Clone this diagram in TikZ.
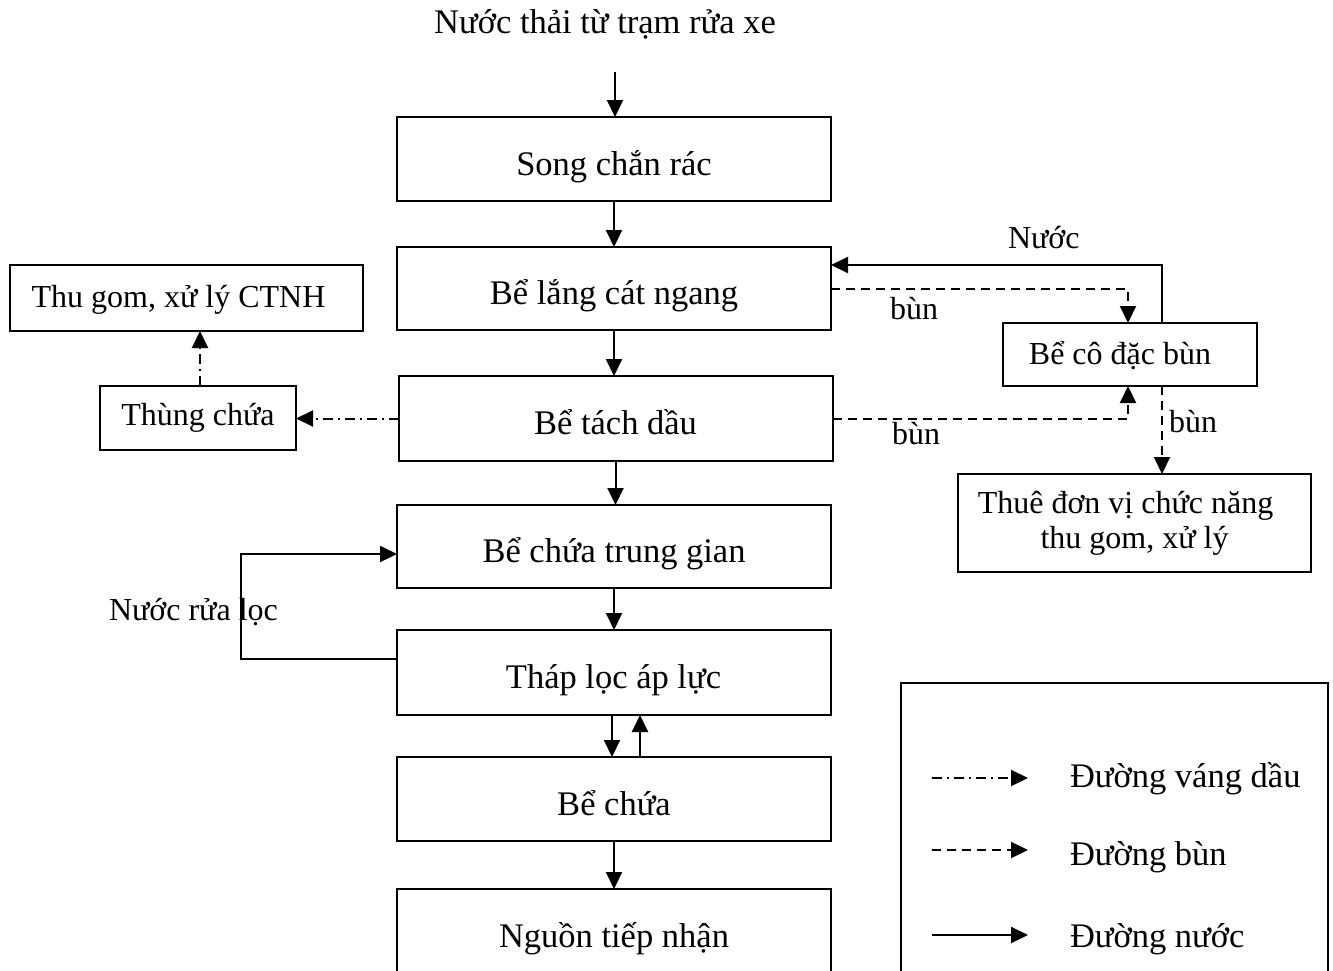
\documentclass[tikz,border=0pt]{standalone}
\usepackage{fontspec}
\setmainfont{Liberation Serif}
\usetikzlibrary{arrows.meta}
\begin{document}
\begin{tikzpicture}[x=1pt,y=-1pt,
  every node/.style={inner sep=0pt, outer sep=0pt},
  bigfont/.style={font=\fontsize{34.5}{40}\selectfont},
  smallfont/.style={font=\fontsize{32}{35}\selectfont},
  mainbox/.style={draw, line width=2pt, bigfont, minimum width=434pt, text height=32pt, text depth=0pt},
  sidebox/.style={draw, line width=2pt, smallfont, text depth=0pt},
  tiphead/.style={-{Triangle[length=17pt,width=16pt]}},
  water/.style={line width=2pt, tiphead},
  sludge/.style={line width=2pt, dash pattern=on 9pt off 6pt, tiphead},
  oil/.style={line width=2pt, dash pattern=on 10pt off 5pt on 2pt off 5pt, tiphead},
]
\clip (0,0) rectangle (1333,970);

% main treatment line
\node[bigfont, anchor=base] (title) at (605,33) {Nước thải từ trạm rửa xe};
\node[mainbox, minimum height=84pt] (song)  at (614,159)   {Song chắn rác};
\node[mainbox, minimum height=83pt] (lang)  at (614,288.5) {Bể lắng cát ngang};
\node[mainbox, minimum height=85pt] (tach)  at (615.5,418.5) {Bể tách dầu};
\node[mainbox, minimum height=83pt] (tg)    at (614,546.5) {Bể chứa trung gian};
\node[mainbox, minimum height=85pt] (thap)  at (613.5,672.5) {Tháp lọc áp lực};
\node[mainbox, minimum height=84pt] (becha) at (614,799)   {Bể chứa};
\node[mainbox, minimum height=84pt] (nguon) at (614,931)   {Nguồn tiếp nhận};

% oil branch
\node[sidebox, text height=18pt, minimum width=353pt, minimum height=66pt] (ctnh) at (186.5,298) {Thu gom, xử lý CTNH\hspace*{16pt}};
\node[sidebox, text height=14pt, minimum width=196pt, minimum height=64pt] (thung) at (198,418) {Thùng chứa};

% sludge branch
\node[sidebox, text height=20pt, minimum width=254pt, minimum height=63pt] (cod) at (1130,354.5) {Bể cô đặc bùn\hspace*{20pt}};
\node[draw, line width=2pt, smallfont, align=center, minimum width=353pt, minimum height=98pt] (thue) at (1134.5,523) {Thuê đơn vị chức năng\hspace*{18pt}\\thu gom, xử lý};

% water flow down the main line
\coordinate (inlet) at (615,72);
\draw[water] (inlet) -- (inlet |- song.north);
\draw[water] (song.south) -- (song.south |- lang.north);
\draw[water] (lang.south) -- (lang.south |- tach.north);
\draw[water] (tach.south) -- (tach.south |- tg.north);
\draw[water] (tg.south) -- (tg.south |- thap.north);
\coordinate (thapdown) at ([xshift=-1.5pt]thap.south);
\coordinate (bechaup) at ([xshift=26pt]becha.north);
\draw[water] (thapdown) -- (thapdown |- becha.north);
\draw[water] (bechaup) -- (bechaup |- thap.south);
\draw[water] (becha.south) -- (becha.south |- nguon.north);

% backwash loop
\coordinate (loopx) at (241,600);
\coordinate (thapout) at ([yshift=14pt]thap.west);
\coordinate (tgin) at ([yshift=-7.5pt]tg.west);
\draw[water] (thapout) -- (thapout -| loopx) -- (tgin -| loopx) -- (tgin);
\node[smallfont, anchor=base west] (rualoc) at (109,620) {Nước rửa lọc};

% oil skimming
\coordinate (thungout) at ([xshift=2pt]thung.north);
\draw[oil] (tach.west) -- (tach.west -| thung.east);
\draw[oil] (thungout) -- (thungout |- ctnh.south);

% sludge lines and returned water
\draw[sludge] (lang.east) -| ([xshift=-2pt]cod.north);
\draw[sludge] (tach.east) -| ([xshift=-2pt]cod.south);
\coordinate (codout) at ([xshift=32pt]cod.south);
\draw[sludge] (codout) -- (codout |- thue.north);
\coordinate (nout) at ([xshift=32pt]cod.north);
\coordinate (nin) at ([yshift=23.5pt]lang.east);
\draw[water] (nout) |- (nin);
\node[smallfont, anchor=base west] (nuoclbl) at (1008,248) {Nước};
\node[smallfont, anchor=base west] (bun1) at (890,319) {bùn};
\node[smallfont, anchor=base west] (bun2) at (892,444) {bùn};
\node[smallfont, anchor=base west] (bun3) at (1169,432) {bùn};

% legend
\node[draw, line width=2pt, anchor=north west, minimum width=427pt, minimum height=300pt] (legend) at (901,683) {};
\coordinate (la1) at (932,778);  \coordinate (lb1) at (1028,778);
\coordinate (la2) at (932,850);  \coordinate (lb2) at (1028,850);
\coordinate (la3) at (932,935);  \coordinate (lb3) at (1028,935);
\draw[oil] (la1) -- (lb1);
\draw[sludge] (la2) -- (lb2);
\draw[water] (la3) -- (lb3);
\node[bigfont, anchor=base west] (lt1) at (1070,787) {Đường váng dầu};
\node[bigfont, anchor=base west] (lt2) at (1070,865) {Đường bùn};
\node[bigfont, anchor=base west] (lt3) at (1070,947) {Đường nước};
\end{tikzpicture}
\end{document}
